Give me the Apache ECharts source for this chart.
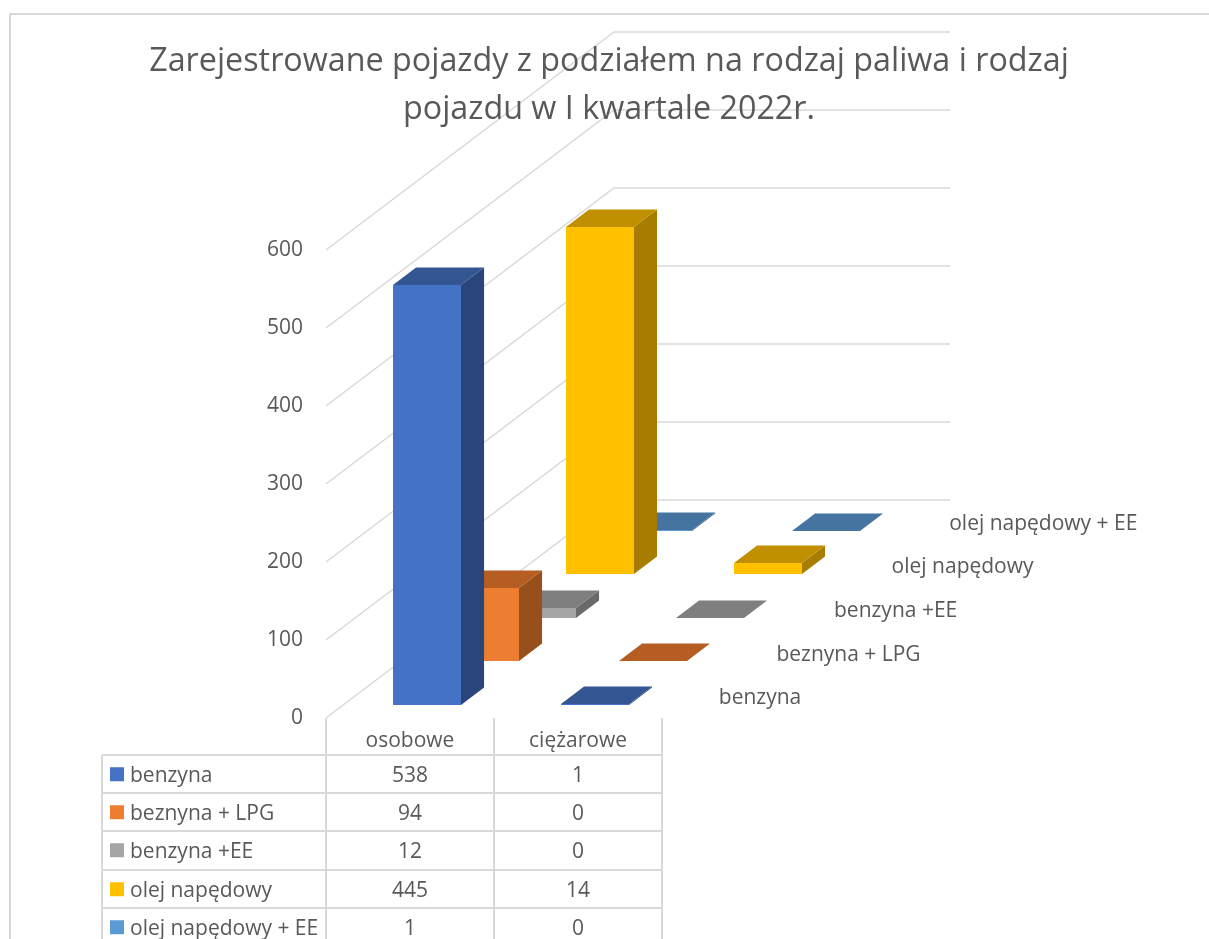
<!DOCTYPE html>
<html>
<head>
<meta charset="utf-8">
<title>Zarejestrowane pojazdy</title>
<script src="https://cdn.jsdelivr.net/npm/echarts@6/dist/echarts.min.js"></script>
<style>
html, body { margin: 0; padding: 0; background: #fff; overflow: hidden; }
#chart_div { width: 1209px; height: 939px; }
</style>
</head>
<body>
<div id="chart_div"></div>
<script>
var chart_title = 'Zarejestrowane pojazdy z podziałem na rodzaj paliwa i rodzaj\npojazdu w I kwartale 2022r.';
var categories = ['osobowe', 'ciężarowe'];
var fuel_names = ['benzyna', 'beznyna + LPG', 'benzyna +EE', 'olej napędowy', 'olej napędowy + EE'];
var val_benzyna = [538, 1];
var val_lpg = [94, 0];
var val_ee = [12, 0];
var val_olej = [445, 14];
var val_olej_ee = [1, 0];
var y_ticks = [0, 100, 200, 300, 400, 500, 600];

var colors_front = ['#4472C4', '#ED7D31', '#A5A5A5', '#FFC000', '#5B9BD5'];
var colors_top = ['#335693', '#B55D22', '#7F7F7F', '#C09000', '#44749F'];
var colors_side = ['#294579', '#974F1C', '#6A6A6A', '#A67D00', '#386088'];

var text_color = '#595959';
var line_color = '#D9D9D9';
var font_name = '"Open Sans", "Noto Sans", sans-serif';

// one depth slot in pixels, the floor runs back 5 slots
var depth_x = 57.6;
var depth_y = 43.6;
var bar_front = 0.3;
var bar_depth = 0.4;
var bar_width = 0.405;

// table rows
var row_top = [755, 793, 831, 870, 908];
var row_h = 38.5;
var table_left = 102;

function poly(points, color) {
	return {type: 'polygon', shape: {points: points}, style: {fill: color}};
}

function wallRender(params, api) {
	var p = api.coord([0, api.value(1)]);
	var band = api.size([1, 0])[0];
	var x0 = p[0] - band / 2;
	var xb = x0 + depth_x * 5;
	var yb = p[1] - depth_y * 5;
	return {
		type: 'polyline',
		shape: {points: [[x0, p[1]], [xb, yb], [xb + band * 2, yb]]},
		style: {fill: null, stroke: line_color, lineWidth: 1.5}
	};
}

function barRender(s) {
	return function(params, api) {
		var top = api.coord([api.value(0), api.value(1)]);
		var base = api.coord([api.value(0), 0]);
		var w = Math.round(api.size([1, 0])[0] * bar_width);
		var off = s + bar_front;
		// whole pixels, otherwise the bar behind shows through the seam
		var x1 = Math.round(top[0] - w / 2 + off * depth_x);
		var x2 = x1 + w;
		var yt = Math.round(top[1] - off * depth_y);
		var yb = Math.round(base[1] - off * depth_y);
		var dx = bar_depth * depth_x;
		var dy = bar_depth * depth_y;
		return {
			type: 'group',
			children: [
				poly([[x2, yb], [x2 + dx, yb - dy], [x2 + dx, yt - dy], [x2, yt]], colors_side[s]),
				poly([[x1, yt], [x2, yt], [x2 + dx, yt - dy], [x1 + dx, yt - dy]], colors_top[s]),
				poly([[x1, yb], [x2, yb], [x2, yt], [x1, yt]], colors_front[s])
			]
		};
	};
}

function depthLabelRender(params, api) {
	var s = params.dataIndex;
	var p = api.coord([1, 0]);
	var band = api.size([1, 0])[0];
	return {
		type: 'text',
		style: {
			x: p[0] + band / 2 + (s + 0.5) * depth_x + 28,
			y: p[1] - (s + 0.5) * depth_y + 2,
			text: fuel_names[s],
			fill: text_color,
			font: '21px ' + font_name,
			textAlign: 'left',
			textVerticalAlign: 'middle'
		}
	};
}

function tableRender(params, api) {
	var s = params.dataIndex;
	var band = api.size([1, 0])[0];
	var c0 = api.coord([0, 0])[0];
	var c1 = api.coord([1, 0])[0];
	var x_left = c0 - band / 2;
	var x_right = c1 + band / 2;
	var y = row_top[s];
	var y_mid = y + row_h / 2;
	var line = {stroke: line_color, lineWidth: 2};
	var cell_text = function(x, txt, align) {
		return {
			type: 'text',
			style: {x: x, y: y_mid + 1.5, text: txt, fill: text_color, font: '21px ' + font_name,
				textAlign: align, textVerticalAlign: 'middle'}
		};
	};
	return {
		type: 'group',
		children: [
			{type: 'line', shape: {x1: table_left, y1: y, x2: x_right, y2: y}, style: line},
			{type: 'line', shape: {x1: table_left, y1: y, x2: table_left, y2: y + row_h}, style: line},
			{type: 'line', shape: {x1: x_left, y1: y, x2: x_left, y2: y + row_h}, style: line},
			{type: 'line', shape: {x1: c0 + band / 2, y1: y, x2: c0 + band / 2, y2: y + row_h}, style: line},
			{type: 'line', shape: {x1: x_right, y1: y, x2: x_right, y2: y + row_h}, style: line},
			{type: 'rect', shape: {x: table_left + 8, y: y_mid - 7, width: 14, height: 14}, style: {fill: colors_front[s]}},
			cell_text(table_left + 28, fuel_names[s], 'left'),
			cell_text(c0, String(api.value(2)), 'center'),
			cell_text(c1, String(api.value(3)), 'center')
		]
	};
}

function initChart() {
	var all_vals = [val_benzyna, val_lpg, val_ee, val_olej, val_olej_ee];

	var t_series = [];
	t_series.push({
		type: 'custom', coordinateSystem: 'cartesian2d', silent: true, clip: false,
		renderItem: wallRender,
		data: y_ticks.map(function(v) { return [0, v]; })
	});
	// back rows first so the front rows cover them
	for (var s = all_vals.length - 1; s >= 0; s--) {
		t_series.push({
			type: 'custom', coordinateSystem: 'cartesian2d', silent: true, clip: false,
			name: fuel_names[s],
			renderItem: barRender(s),
			data: all_vals[s].map(function(v, c) { return [c, v]; })
		});
	}
	t_series.push({
		type: 'custom', coordinateSystem: 'cartesian2d', silent: true, clip: false,
		renderItem: depthLabelRender,
		data: fuel_names.map(function(n) { return [1, 0]; })
	});
	t_series.push({
		type: 'custom', coordinateSystem: 'cartesian2d', silent: true, clip: false,
		renderItem: tableRender,
		encode: {x: 0, y: 1},
		data: all_vals.map(function(v) { return [0, 0, v[0], v[1]]; })
	});

	var my_chart = echarts.init(document.getElementById('chart_div'), null, {renderer: 'canvas'});
	my_chart.setOption({
		backgroundColor: '#ffffff',
		animation: false,
		title: {
			text: chart_title,
			left: 604,
			top: 33,
			textAlign: 'center',
			textStyle: {
				fontFamily: font_name,
				fontSize: 32.3,
				fontWeight: 'normal',
				color: text_color,
				lineHeight: 48
			}
		},
		grid: {left: 326, top: 250, width: 336, height: 468},
		xAxis: {
			type: 'category',
			data: categories,
			axisLine: {show: false},
			axisTick: {show: true, length: 37, lineStyle: {color: line_color, width: 2}},
			axisLabel: {color: text_color, fontFamily: font_name, fontSize: 21, margin: 13}
		},
		yAxis: {
			type: 'value',
			min: 0,
			max: 600,
			interval: 100,
			axisLine: {show: false},
			axisTick: {show: false},
			splitLine: {show: false},
			axisLabel: {color: text_color, fontFamily: font_name, fontSize: 21, margin: 23, padding: [3, 0, 0, 0]}
		},
		graphic: [{
			type: 'polyline',
			silent: true,
			shape: {points: [[10, 939], [10, 14], [1209, 14]]},
			style: {fill: null, stroke: line_color, lineWidth: 2}
		}],
		series: t_series
	});
}

initChart();
</script>
</body>
</html>
